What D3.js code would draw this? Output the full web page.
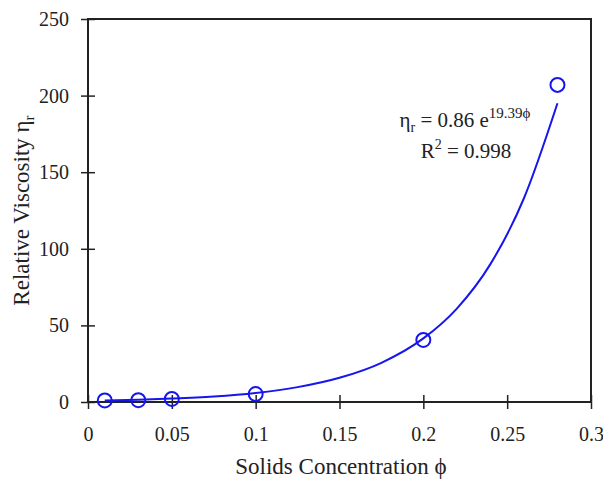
<!DOCTYPE html>
<html>
<head>
<meta charset="utf-8">
<script src="https://cdn.jsdelivr.net/npm/d3@7"></script>
<style>
  body { margin: 0; background: #fff; }
</style>
</head>
<body>
<div id="chart"></div>
<script>
// measured points
const phi = [0.01, 0.03, 0.05, 0.1, 0.2, 0.28];
const viscosity = [1.0, 1.2, 2.0, 5.2, 40.5, 207];

// fitted curve
const fitPhi = [0.01, 0.03, 0.05, 0.075, 0.1, 0.125, 0.15, 0.175, 0.2, 0.22, 0.24, 0.26, 0.28];
const fitVisc = [1.04, 1.54, 2.27, 3.6, 5.9, 9.7, 15.8, 25.6, 41.5, 61, 90, 133, 195];

const xTicks = [0, 0.05, 0.1, 0.15, 0.2, 0.25, 0.3];
const yTicks = [0, 50, 100, 150, 200, 250];

const W = 603, H = 483;
const margin = {left: 88, right: 12, top: 19, bottom: 81};
const serif = "'Liberation Serif'";

let svg = d3.select("#chart")
    .append("svg")
    .attr("width", W)
    .attr("height", H);

let x = d3.scaleLinear().domain([0, 0.3]).range([margin.left, W - margin.right]);
let y = d3.scaleLinear().domain([0, 250]).range([H - margin.bottom, margin.top]);

// frame
svg.append("rect")
    .attr("x", x(0))
    .attr("y", y(250))
    .attr("width", x(0.3) - x(0))
    .attr("height", y(0) - y(250))
    .attr("fill", "none")
    .attr("stroke", "#222")
    .attr("stroke-width", 2);

// x axis
let xAxis = svg.append("g")
    .attr("transform", "translate(0," + y(0) + ")")
    .call(d3.axisBottom(x).tickValues(xTicks).tickFormat(d => d === 0 ? "0" : String(d)).tickSize(6).tickPadding(19));
xAxis.attr("font-family", null);
xAxis.select(".domain").remove();
xAxis.selectAll(".tick line").attr("y1", -7).attr("y2", 7).attr("stroke", "#222").attr("stroke-width", 1.5);
xAxis.selectAll(".tick text").attr("font-size", 20).attr("fill", "#222");

// y axis
let yAxis = svg.append("g")
    .attr("transform", "translate(" + x(0) + ",0)")
    .call(d3.axisLeft(y).tickValues(yTicks).tickSize(6).tickPadding(13));
yAxis.attr("font-family", null);
yAxis.select(".domain").remove();
yAxis.selectAll(".tick line").attr("x1", -7).attr("x2", 7).attr("stroke", "#222").attr("stroke-width", 1.5);
yAxis.selectAll(".tick text").attr("font-size", 20).attr("fill", "#222");

// fit line
let fit = fitPhi.map((p, i) => ({p: p, v: fitVisc[i]}));
svg.append("path")
    .datum(fit)
    .attr("fill", "none")
    .attr("stroke", "#1515ee")
    .attr("stroke-width", 2)
    .attr("d", d3.line().x(d => x(d.p)).y(d => y(d.v)).curve(d3.curveMonotoneX));

// points
svg.selectAll("circle.pt")
    .data(phi.map((p, i) => ({p: p, v: viscosity[i]})))
    .join("circle")
    .attr("class", "pt")
    .attr("cx", d => x(d.p))
    .attr("cy", d => y(d.v))
    .attr("r", 7)
    .attr("fill", "none")
    .attr("stroke", "#1515ee")
    .attr("stroke-width", 2);

// axis titles
svg.append("text")
    .attr("x", 341)
    .attr("y", 474)
    .attr("text-anchor", "middle")
    .attr("font-size", 23)
    .attr("fill", "#222")
    .text("Solids Concentration \u03d5");

let yt = svg.append("text")
    .attr("transform", "translate(29," + ((y(0) + y(250)) / 2) + ") rotate(-90)")
    .attr("text-anchor", "middle")
    .attr("font-size", 23)
    .attr("fill", "#222");
yt.append("tspan").text("Relative Viscosity \u03b7");
yt.append("tspan").attr("font-size", 15).attr("dy", 5).text("r");

// annotation
let eq = svg.append("text")
    .attr("x", 465)
    .attr("y", 127)
    .attr("text-anchor", "middle")
    .attr("font-size", 21)
    .attr("fill", "#222");
eq.append("tspan").text("\u03b7");
eq.append("tspan").attr("font-size", 14).attr("dy", 5).text("r");
eq.append("tspan").attr("dy", -5).text(" = 0.86 e");
eq.append("tspan").attr("font-size", 15).attr("dy", -9).text("19.39\u03d5");

let r2 = svg.append("text")
    .attr("x", 466)
    .attr("y", 158)
    .attr("text-anchor", "middle")
    .attr("font-size", 21)
    .attr("fill", "#222");
r2.append("tspan").text("R");
r2.append("tspan").attr("font-size", 14).attr("dy", -9).text("2");
r2.append("tspan").attr("dy", 9).text(" = 0.998");

// serif everywhere
svg.selectAll("text").style("font-family", serif);
</script>
</body>
</html>
